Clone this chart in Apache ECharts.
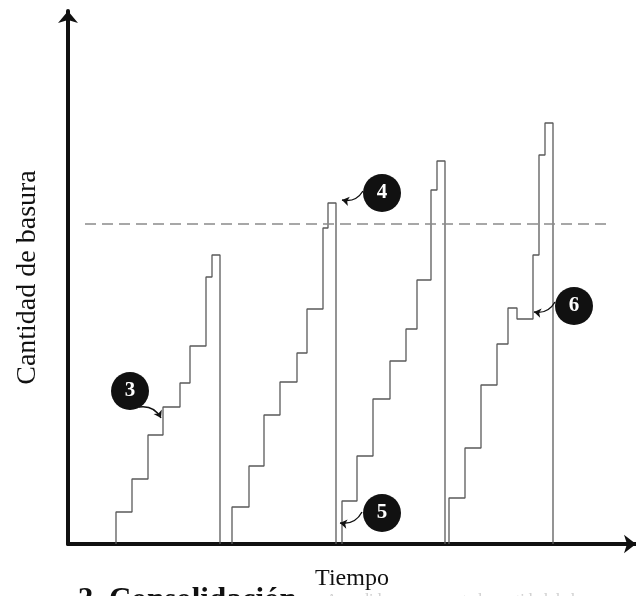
<!DOCTYPE html>
<html>
<head>
<meta charset="utf-8">
<script src="https://cdn.jsdelivr.net/npm/echarts@6/dist/echarts.min.js"></script>
<style>html,body{margin:0;padding:0;background:#fff;}#c{width:636px;height:596px;}</style>
</head>
<body>
<div id="c"></div>
<script>
// Collection cycles: times where the level steps up, the levels reached, and the emptying time
var cycle1Times = [48, 64, 80, 95, 112, 122, 138, 144];
var cycle1Levels = [32, 65, 109, 137, 161, 198, 267, 289];
var cycle1End = 152;
var cycle2Times = [164, 181, 196, 212, 229, 239, 255, 260];
var cycle2Levels = [37, 78, 129, 162, 191, 235, 316, 341];
var cycle2End = 268;
var cycle3Times = [274, 289, 305, 322, 338, 349, 363, 369];
var cycle3Levels = [43, 88, 145, 183, 215, 264, 354, 383];
var cycle3End = 377;
var cycle4Times = [381, 397, 413, 429, 440, 449, 465, 471, 477];
var cycle4Levels = [46, 96, 159, 200, 236, 225, 289, 389, 421];
var cycle4End = 485;
var threshold = 320;
var thresholdRange = [17, 542];
// Annotation markers
var markerLabels = ['3', '4', '5', '6'];
var markerX = [62, 314, 314, 506];
var markerY = [153, 351, 31, 238];
var arrowFrom = [[71, 137], [295, 353], [294, 32], [487, 242]];
var arrowTo = [[93, 126], [274, 344], [272, 21], [466, 232]];

function stairs(times, levels, end) {
  var pts = [];
  var prev = 0;
  for (var i = 0; i < times.length; i++) {
    pts.push([times[i], prev]);
    pts.push([times[i], levels[i]]);
    prev = levels[i];
  }
  pts.push([end, prev]);
  pts.push([end, 0]);
  return pts;
}

var serif = "'Liberation Serif', 'DejaVu Serif', serif";
var cycles = [
  stairs(cycle1Times, cycle1Levels, cycle1End),
  stairs(cycle2Times, cycle2Levels, cycle2End),
  stairs(cycle3Times, cycle3Levels, cycle3End),
  stairs(cycle4Times, cycle4Levels, cycle4End)
];
var series = cycles.map(function (d) {
  return {
    type: 'line', data: d, symbol: 'none', silent: true,
    lineStyle: { color: '#5a5a5a', width: 1.3 }, z: 2
  };
});
series.push({
  type: 'line', symbol: 'none', silent: true,
  data: [[thresholdRange[0], threshold], [thresholdRange[1], threshold]],
  lineStyle: { color: '#8a8a8a', width: 1.5, type: [11, 6] }, z: 3
});
series.push({
  type: 'lines', coordinateSystem: 'cartesian2d', silent: true,
  symbol: ['none', 'arrow'], symbolSize: 7,
  data: arrowFrom.map(function (f, i) { return { coords: [f, arrowTo[i]] }; }),
  lineStyle: { color: '#111', width: 1.4, curveness: 0.35, opacity: 1 }, z: 4
});
series.push({
  type: 'scatter', symbol: 'circle', symbolSize: 38, silent: true,
  data: markerX.map(function (x, i) { return [x, markerY[i], markerLabels[i]]; }),
  itemStyle: { color: '#111', opacity: 1 },
  label: { show: true, position: 'inside', formatter: function (p) { return p.value[2]; },
    color: '#fff', fontFamily: serif, fontWeight: 'bold', fontSize: 21 },
  z: 5
});

var chart = echarts.init(document.getElementById('c'));
chart.setOption({
  animation: false,
  backgroundColor: '#fff',
  grid: { left: 68, right: 0, top: 11, bottom: 52, containLabel: false, outerBoundsMode: 'none' },
  xAxis: {
    type: 'value', min: 0, max: 568,
    name: 'Tiempo', nameLocation: 'middle', nameGap: 23,
    nameTextStyle: { fontFamily: serif, fontSize: 24, color: '#111' },
    axisLine: { lineStyle: { color: '#111', width: 4 }, symbol: ['none', 'arrow'], symbolSize: [14, 12] },
    axisTick: { show: false }, axisLabel: { show: false }, splitLine: { show: false }
  },
  yAxis: {
    type: 'value', min: 0, max: 533,
    name: 'Cantidad de basura', nameLocation: 'middle', nameGap: 26,
    nameTextStyle: { fontFamily: serif, fontSize: 28, color: '#111' },
    axisLine: { lineStyle: { color: '#111', width: 4 }, symbol: ['none', 'arrow'], symbolSize: [15, 12] },
    axisTick: { show: false }, axisLabel: { show: false }, splitLine: { show: false }
  },
  graphic: [
    { type: 'text', left: 78, top: 585, style: { text: '3. Consolidación', font: "bold 31px 'Liberation Serif'", fill: '#111' } },
    { type: 'text', left: 326, top: 593, style: { text: 'A medida que aumenta la cantidad de la', font: "16px 'Liberation Serif'", fill: '#cfcfcf' } }
  ],
  series: series
});
</script>
</body>
</html>
